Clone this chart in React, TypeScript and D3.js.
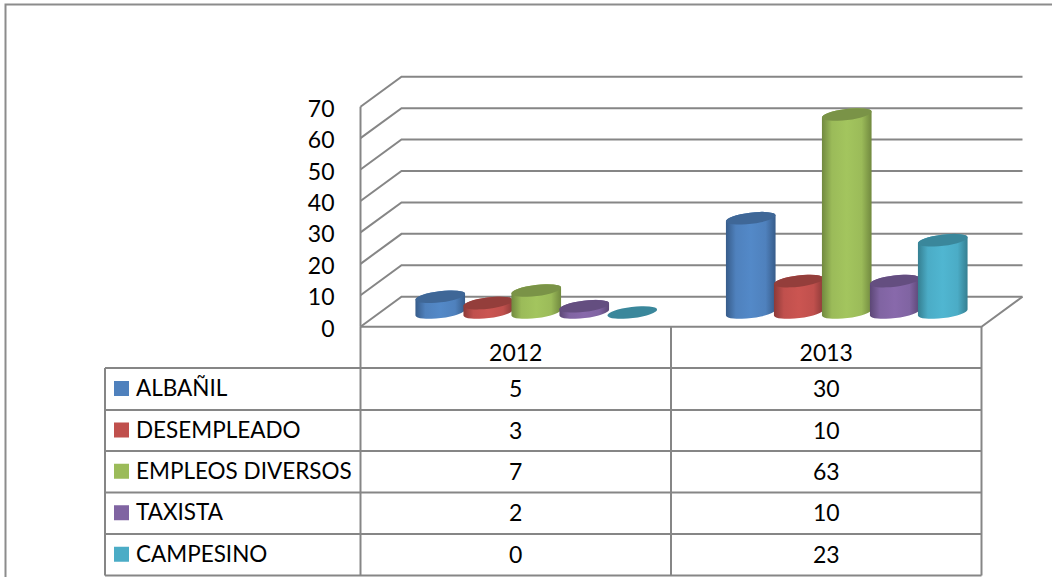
import React from "react";
import * as d3 from "d3";

const categories = ["2012", "2013"];
const seriesNames = ["ALBAÑIL", "DESEMPLEADO", "EMPLEOS DIVERSOS", "TAXISTA", "CAMPESINO"];
const albanil = [5, 30];
const desempleado = [3, 10];
const empleos = [7, 63];
const taxista = [2, 10];
const campesino = [0, 23];
const seriesValues = [albanil, desempleado, empleos, taxista, campesino];
const yTicks = [0, 10, 20, 30, 40, 50, 60, 70];
const baseColors = ["#4F81BD", "#C0504D", "#9BBB59", "#8064A2", "#4BACC6"];
const lightColors = ["#5389C8", "#CB5551", "#A3C55E", "#8869AB", "#50B6D1"];
const edgeColors = ["#375C8A", "#8C3A38", "#71893F", "#5C4776", "#357F91"];
const topColors = ["#3F6797", "#943E3B", "#7A9347", "#644E80", "#3A879B"];

const W = 1052, H = 577;
const GRID = "#868686";
const FONT = "Lato, 'Open Sans', sans-serif";
const FS = 23;
const LEGEND_FS = 22.5;

const frontLeft = 360.5, frontRight = 981.5;
const depthX = 41, depthY = -30;
const y = d3.scaleLinear().domain([0, 70]).range([326.7, 106.7]);
const x0 = d3.scaleBand().domain(categories).range([frontLeft, frontRight]);
const x1 = d3.scalePoint().domain(seriesNames).range([-96, 96]);

const tableLeft = 105;
const rowEdges = [368, 410, 451, 492.5, 534, 575.5];
const valueLines = d3.range(1, 3).map((i) => frontLeft + (i * (frontRight - frontLeft)) / 2);

const RX = 25, RY = 5.6, TILT = -7;
const cosT = Math.cos((TILT * Math.PI) / 180), sinT = Math.sin((TILT * Math.PI) / 180);
const BAR_BACK = 14.2;

function cylinder(cx: number, base: number, top: number) {
  const dx = RX * cosT, dy = RX * sinT;
  const left = [cx - dx, base - dy], right = [cx + dx, base + dy];
  const h = base - top;
  return `M${left[0]},${left[1]} A${RX},${RY} ${TILT} 0 0 ${right[0]},${right[1]} L${right[0]},${right[1] - h} A${RX},${RY} ${TILT} 0 0 ${left[0]},${left[1] - h} Z`;
}

export default function App() {
  const rowMid = (i: number) => (rowEdges[i] + rowEdges[i + 1]) / 2;
  const catCenter = (c: string) => (x0(c) as number) + x0.bandwidth() / 2;
  return (
    <svg width={W} height={H} style={{ position: "absolute", left: 0, top: 0, background: "#fff" }} fontFamily={FONT} fontSize={FS} fill="#000">
      <defs>
        {baseColors.map((c, i) => (
          <linearGradient key={i} id={`g${i}`} x1="0" x2="1" y1="0" y2="0">
            <stop offset="0" stopColor={edgeColors[i]} />
            <stop offset="0.2" stopColor={c} />
            <stop offset="0.5" stopColor={lightColors[i]} />
            <stop offset="0.8" stopColor={c} />
            <stop offset="1" stopColor={edgeColors[i]} />
          </linearGradient>
        ))}
      </defs>
      {/* outer frame */}
      <path d={`M5.5,${H} V4.5 H${W}`} fill="none" stroke="#8C8C8C" strokeWidth={2} />
      {/* walls */}
      <g stroke={GRID} strokeWidth={2} fill="none">
        {yTicks.map((t) => (
          <path key={t} d={`M${frontLeft},${y(t)} L${frontLeft + depthX},${y(t) + depthY} H${frontRight + depthX}`} />
        ))}
        <path d={`M${frontLeft},${y(0)} H${frontRight} L${frontRight + depthX},${y(0) + depthY}`} />
        <path d={`M${frontLeft},${y(70)} V${y(0)}`} />
      </g>
      {/* y axis labels */}
      {yTicks.map((t) => (
        <text key={t} x={334.5} y={y(t) + 10} textAnchor="end">{t}</text>
      ))}
      {/* cylinders */}
      {categories.map((c, ci) =>
        seriesNames.map((s, si) => {
          const cx = catCenter(c) + depthX / 2 + (x1(s) as number);
          const base = y(0) - BAR_BACK;
          const top = y(seriesValues[si][ci]) - BAR_BACK;
          return (
            <g key={c + s}>
              {seriesValues[si][ci] > 0 && <path d={cylinder(cx, base, top)} fill={`url(#g${si})`} />}
              <ellipse cx={cx} cy={top} rx={RX} ry={RY} transform={`rotate(${TILT} ${cx} ${top})`} fill={topColors[si]} />
            </g>
          );
        })
      )}
      {/* data table */}
      <g stroke={GRID} strokeWidth={2} fill="none">
        {rowEdges.map((e) => (
          <line key={e} x1={tableLeft} x2={frontRight} y1={e} y2={e} />
        ))}
        <line x1={tableLeft} x2={tableLeft} y1={rowEdges[0]} y2={rowEdges[5]} />
        {[frontLeft, ...valueLines].map((v) => (
          <line key={v} x1={v} x2={v} y1={y(0)} y2={rowEdges[5]} />
        ))}
      </g>
      {categories.map((c) => (
        <text key={c} x={catCenter(c)} y={361} textAnchor="middle">{c}</text>
      ))}
      {seriesNames.map((s, si) => (
        <g key={s}>
          <rect x={114} y={rowMid(si) - 8} width={15} height={15} fill={baseColors[si]} />
          <text x={136} y={rowMid(si) + 7} fontSize={LEGEND_FS}>{s}</text>
          {categories.map((c, ci) => (
            <text key={c} x={catCenter(c)} y={rowMid(si) + 8} textAnchor="middle">{seriesValues[si][ci]}</text>
          ))}
        </g>
      ))}
    </svg>
  );
}
